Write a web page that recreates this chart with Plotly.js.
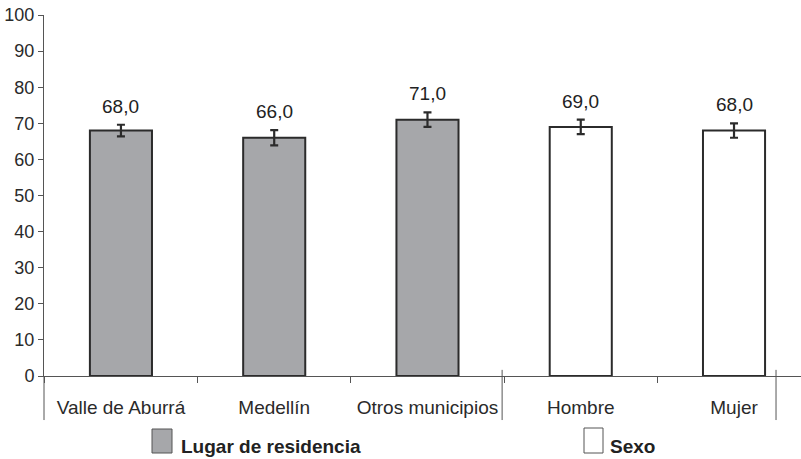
<!DOCTYPE html>
<html>
<head>
<meta charset="utf-8">
<script src="https://cdn.plot.ly/plotly-3.0.1.min.js"></script>
<style>html,body{margin:0;padding:0;background:#fff;}#chart{width:801px;height:459px;}</style>
</head>
<body>
<div id="chart"></div>
<script>
var categories = ['Valle de Aburrá', 'Medellín', 'Otros municipios', 'Hombre', 'Mujer'];
var residenciaCats = ['Valle de Aburrá', 'Medellín', 'Otros municipios'];
var residenciaVals = [68.0, 66.0, 71.0];
var residenciaErr = [1.6, 2.1, 2.0];
var sexoCats = ['Hombre', 'Mujer'];
var sexoVals = [69.0, 68.0];
var sexoErr = [2.0, 2.0];
var groupNames = ['Lugar de residencia', 'Sexo'];
var yTicks = [0, 10, 20, 30, 40, 50, 60, 70, 80, 90, 100];

var fmt = function(v){ return v.toFixed(1).replace('.', ','); };
var allCats = residenciaCats.concat(sexoCats);
var allVals = residenciaVals.concat(sexoVals);
var allErr = residenciaErr.concat(sexoErr);

var FAM = 'Liberation Sans, Arial, sans-serif';
var barW = 0.405;
var traces = [
  {type:'bar', x:residenciaCats, y:residenciaVals, name:groupNames[0], width:barW,
   marker:{color:'#a6a7aa', line:{color:'#2b2b2b', width:2}},
   error_y:{type:'data', array:residenciaErr, visible:true, color:'#2b2b2b', thickness:2.2, width:4},
   showlegend:false, hoverinfo:'none'},
  {type:'bar', x:sexoCats, y:sexoVals, name:groupNames[1], width:barW,
   marker:{color:'#ffffff', line:{color:'#2b2b2b', width:2}},
   error_y:{type:'data', array:sexoErr, visible:true, color:'#2b2b2b', thickness:2.2, width:4},
   showlegend:false, hoverinfo:'none'}
];

var axisFont = {family:FAM, size:19, color:'#2a2a2a'};
var yFont = {family:FAM, size:18, color:'#2a2a2a'};
var legFont = {family:FAM, size:19, color:'#222', weight:'bold'};

var valueAnnots = allCats.map(function(c, i){
  return {xref:'x', yref:'y', x:c, y:allVals[i] + allErr[i], xanchor:'center', yanchor:'bottom',
    yshift:6, text:fmt(allVals[i]), showarrow:false, font:{family:FAM, size:19, color:'#222'}};
});

var layout = {
  width:801, height:459,
  margin:{l:44, r:0, t:15, b:83},
  paper_bgcolor:'#fff', plot_bgcolor:'#fff',
  barmode:'overlay',
  showlegend:false,
  xaxis:{type:'category', categoryorder:'array', categoryarray:categories,
    range:[-0.502, 4.437], tickson:'boundaries', ticks:'outside', ticklen:6, tickwidth:1,
    tickcolor:'#555', showline:true, linecolor:'#555', linewidth:1, showgrid:false,
    zeroline:false, tickfont:axisFont, fixedrange:true, ticklabelstandoff:14},
  yaxis:{range:[0, 100], tickvals:yTicks, ticktext:yTicks.map(String), ticks:'outside', ticklen:5,
    tickcolor:'#555', showline:true, linecolor:'#555', linewidth:1, showgrid:false,
    zeroline:false, tickfont:yFont, fixedrange:true},
  shapes:[
    {type:'line', xref:'paper', yref:'paper', x0:0, x1:0, y0:0, y1:-0.122, line:{color:'#555', width:1}},
    {type:'line', xref:'x', yref:'paper', x0:2.487, x1:2.487, y0:0.017, y1:-0.122, line:{color:'#555', width:1}},
    {type:'line', xref:'x', yref:'paper', x0:4.274, x1:4.274, y0:0.017, y1:-0.122, line:{color:'#555', width:1}},
    {type:'rect', xref:'paper', yref:'paper', x0:(152-44)/757, x1:(172-44)/757, y0:-(429-376)/361, y1:-(453-376)/361,
     fillcolor:'#a6a7aa', line:{color:'#555', width:1}},
    {type:'rect', xref:'paper', yref:'paper', x0:(584-44)/757, x1:(603-44)/757, y0:-(428-376)/361, y1:-(453-376)/361,
     fillcolor:'#ffffff', line:{color:'#555', width:1}}
  ],
  annotations:valueAnnots.concat([
    {xref:'paper', yref:'paper', x:(179-44)/757, y:-(446-376)/361, xanchor:'left', yanchor:'middle',
     text:groupNames[0], showarrow:false, font:legFont},
    {xref:'paper', yref:'paper', x:(608-44)/757, y:-(446-376)/361, xanchor:'left', yanchor:'middle',
     text:groupNames[1], showarrow:false, font:legFont}
  ])
};

Plotly.newPlot('chart', traces, layout, {displayModeBar:false, staticPlot:true});
</script>
</body>
</html>
